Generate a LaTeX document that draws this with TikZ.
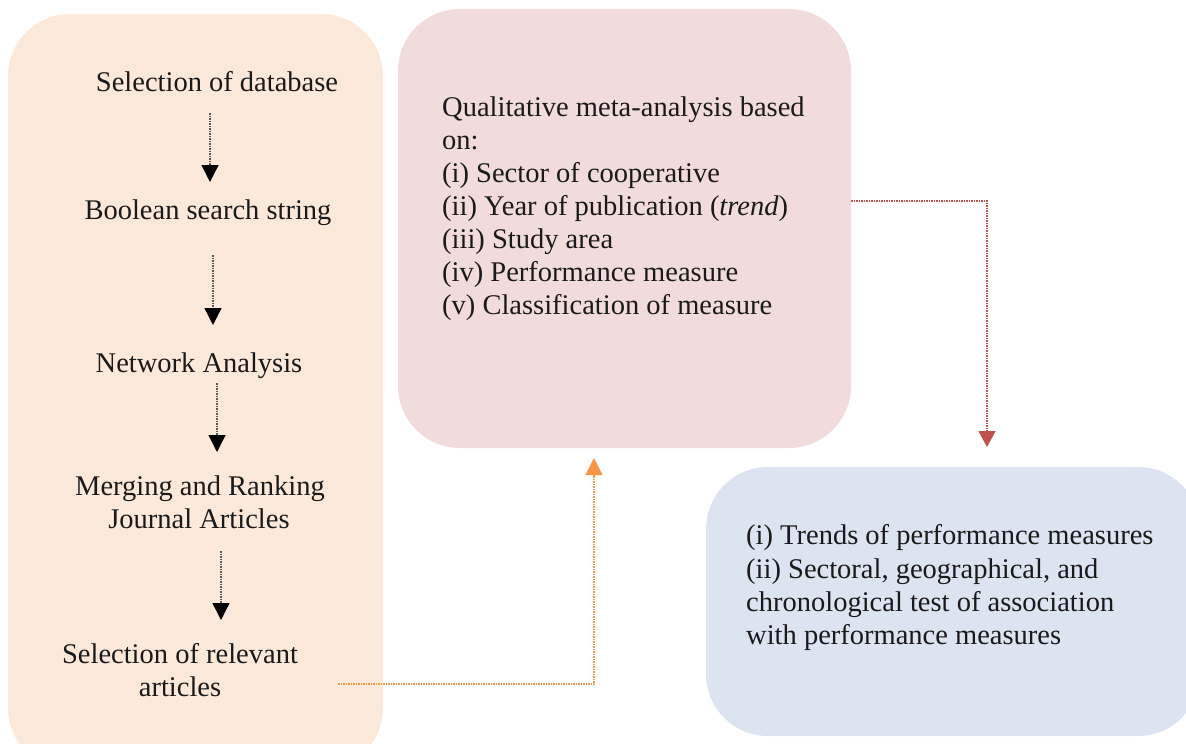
\documentclass[tikz,border=0pt]{standalone}
\usepackage{fontspec}
\setmainfont{Liberation Serif}
\usetikzlibrary{arrows.meta}
\definecolor{peach}{HTML}{FDE9D9}
\definecolor{rose}{HTML}{F2DCDB}
\definecolor{paleblue}{HTML}{DCE4F1}
\definecolor{orangeline}{HTML}{F79646}
\definecolor{redline}{HTML}{C0504D}
\definecolor{txt}{HTML}{1A1A1A}
\tikzset{
  panel/.style={rounded corners=62pt, inner sep=0pt},
  lbl/.style={font=\fontsize{28.5}{33}\selectfont, text=txt, inner sep=0pt},
  flowarrow/.style={draw=gray!70!black, line width=1.3pt, dash pattern=on 1.5pt off 1pt,
    -{Triangle[width=17pt,length=17pt,fill=black,color=black]}},
  orangeconn/.style={draw=orangeline, line width=1.2pt, dash pattern=on 1.5pt off 1pt,
    -{Triangle[width=17pt,length=17pt,fill=orangeline,color=orangeline]}},
  redconn/.style={draw=redline, line width=1.2pt, dash pattern=on 1.5pt off 1pt,
    -{Triangle[width=17pt,length=16pt,fill=redline,color=redline]}}
}
\begin{document}
\begin{tikzpicture}[x=1pt,y=-1pt]
\useasboundingbox (0,0) rectangle (1186,744);
\begin{scope}
\clip (0,0) rectangle (1186,744);
% panels
\fill[peach, panel] (8,14) rectangle (383,770);
\fill[rose, panel] (398,9) rectangle (851,448);
\fill[paleblue, panel] (706,467) rectangle (1200,736);
\end{scope}
% left column texts
\node[lbl, anchor=base] (s1) at (217,91) {Selection of database};
\node[lbl, anchor=base] (s2) at (208,219) {Boolean search string};
\node[lbl, anchor=base] (s3) at (199,372) {Network Analysis};
\node[lbl, anchor=base] (s4a) at (200,495) {Merging and Ranking};
\node[lbl, anchor=base] (s4b) at (199,528) {Journal Articles};
\node[lbl, anchor=base] (s5a) at (180,663) {Selection of relevant};
\node[lbl, anchor=base] (s5b) at (180,696) {articles};
% pink panel text
\node[lbl, anchor=base west] (q1) at (442,116) {Qualitative meta-analysis based};
\node[lbl, anchor=base west] (q2) at (442,149) {on:};
\node[lbl, anchor=base west] (q3) at (442,182) {(i) Sector of cooperative};
\node[lbl, anchor=base west] (q4) at (442,215) {(ii) Year of publication (\textit{trend})};
\node[lbl, anchor=base west] (q5) at (442,248) {(iii) Study area};
\node[lbl, anchor=base west] (q6) at (442,281) {(iv) Performance measure};
\node[lbl, anchor=base west] (q7) at (442,314) {(v) Classification of measure};
% blue panel text
\node[lbl, anchor=base west] (b1) at (746,544) {(i) Trends of performance measures};
\node[lbl, anchor=base west] (b2) at (746,578) {(ii) Sectoral, geographical, and};
\node[lbl, anchor=base west] (b3) at (746,611) {chronological test of association};
\node[lbl, anchor=base west] (b4) at (746,644) {with performance measures};
% arrow end points
\coordinate (a1s) at (210,113);
\coordinate (a1e) at (210,182);
\coordinate (a2s) at (213,255);
\coordinate (a2e) at (213,325);
\coordinate (a3s) at (217,383);
\coordinate (a3e) at (217,452);
\coordinate (a4s) at (221,551);
\coordinate (a4e) at (221,620);
\draw[flowarrow] (a1s) -- (a1e);
\draw[flowarrow] (a2s) -- (a2e);
\draw[flowarrow] (a3s) -- (a3e);
\draw[flowarrow] (a4s) -- (a4e);
% connectors
\coordinate (os) at (338,684);
\coordinate (oc) at (594,684);
\coordinate (oe) at (594,458);
\draw[orangeconn] (os) -- (oc) -- (oe);
\coordinate (rs) at (851,201);
\coordinate (rc) at (987,201);
\coordinate (re) at (987,447);
\draw[redconn] (rs) -- (rc) -- (re);
\end{tikzpicture}
\end{document}
